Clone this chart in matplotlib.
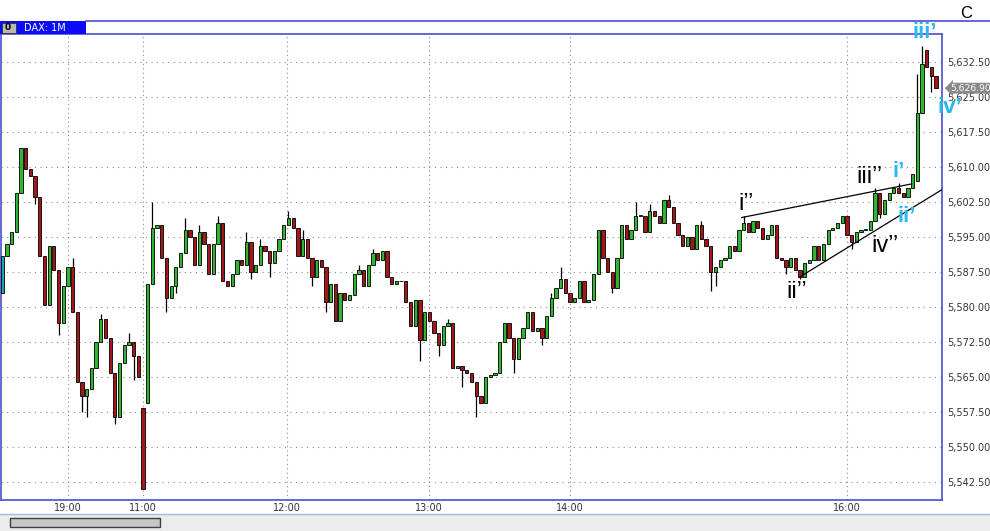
import matplotlib.pyplot as plt
from matplotlib.patches import Rectangle
from matplotlib.lines import Line2D
import matplotlib.transforms as mtransforms

closes = [
    5591, 5593.5, 5596, 5604.5, 5614, 5609.5, 5608, 5603.5, 5591, 5580.5,
    5593, 5588, 5576.5, 5584.5, 5588.5, 5579, 5564, 5561, 5562.5, 5567,
    5572.5, 5577.5, 5573.5, 5566, 5556.5, 5568, 5572, 5572.5, 5569.5, 5565,
    5541, 5585, 5597, 5597.5, 5590.5, 5582, 5584.5, 5588.5, 5591.5, 5596.5,
    5595, 5589, 5596, 5593.5, 5587, 5593.5, 5598, 5585.5, 5584.5, 5587,
    5590, 5589, 5594, 5587.5, 5589, 5593, 5592, 5589.5, 5592, 5594.5,
    5597.5, 5599, 5597, 5591, 5594.5, 5590.5, 5586.5, 5590, 5588.5, 5581,
    5585, 5577, 5583, 5581.5, 5582.5, 5587, 5588, 5584.5, 5589, 5591.5,
    5590, 5592, 5586.5, 5585, 5585.5, 5585.5, 5581, 5576, 5581.5, 5573,
    5579, 5577, 5574.5, 5572, 5576, 5576.5, 5567, 5567.5, 5566.5, 5566,
    5564, 5561, 5559.5, 5565, 5565.5, 5566, 5572.5, 5576.5, 5573.5, 5569,
    5573.5, 5575.5, 5579, 5575, 5575.5, 5573.5, 5578, 5582, 5584, 5586,
    5583, 5581, 5582, 5585.5, 5581, 5581.5, 5587, 5596.5, 5590.5, 5587.5,
    5584, 5590.5, 5597.5, 5594.5, 5596.5, 5599.5, 5599.5, 5596, 5600.5, 5599.5,
    5598, 5603, 5601.5, 5598, 5595.5, 5593, 5595, 5592.5, 5597.5, 5594.5,
    5593, 5587.5, 5588.5, 5590, 5590.5, 5593, 5592, 5596.5, 5598, 5596,
    5598.5, 5597, 5594.5, 5595.5, 5597.5, 5590.5, 5590, 5588.5, 5590.5, 5588,
    5586.5, 5589.5, 5590, 5593, 5590, 5593.5, 5596.5, 5597, 5598, 5599.5,
    5595.5, 5594, 5596, 5596.5, 5596.5, 5598.5, 5604.5, 5600, 5603, 5604.5,
    5605.5, 5604.5, 5603.5, 5605.5, 5608.5, 5621.5, 5632, 5631.5, 5629.5, 5626.9,
]

# bars whose open does not equal the previous close (gaps)
open_gaps = {0: 5583, 30: 5558.5, 31: 5559.5, 195: 5607, 196: 5621.5, 197: 5635}

# wick ends beyond the body
high_wicks = {15: 5590.5, 21: 5578.5, 27: 5574.5, 32: 5602.5, 39: 5599, 42: 5597.5,
              46: 5599.5, 52: 5596, 55: 5594.5, 61: 5600.5, 64: 5596.5, 76: 5589,
              79: 5592.5, 95: 5577.5, 117: 5583, 119: 5588.5, 135: 5602.5, 138: 5602,
              142: 5604, 149: 5598.5, 158: 5599.5, 186: 5605.5, 191: 5606.5,
              195: 5630, 196: 5636}
low_wicks = {7: 5602, 12: 5574, 17: 5557.5, 18: 5556.5, 24: 5555, 28: 5564.5,
             35: 5579, 37: 5583, 53: 5586, 57: 5586.5, 66: 5584.5, 69: 5579,
             89: 5568.5, 93: 5569.5, 98: 5563, 101: 5556.5, 109: 5566, 115: 5572,
             130: 5583, 151: 5583.5, 152: 5584.5, 167: 5587, 170: 5586, 181: 5592.5,
             187: 5599, 198: 5626}

time_labels = ['19:00', '11:00', '12:00', '13:00', '14:00', '16:00']
time_pos = [14, 30, 60.7, 91, 121, 180]
price_ticks = [5542.5, 5550, 5557.5, 5565, 5572.5, 5580, 5587.5, 5595,
               5602.5, 5610, 5617.5, 5625, 5632.5]
last_price = 5626.90

# wave labels: (text, bar, price, colour)
waves = [
    ('i’’', 158.5, 5602.1, 'black'),
    ('ii’’', 169.4, 5583.3, 'black'),
    ('iii’’', 184.7, 5607.9, 'black'),
    ('iv’’', 188.1, 5593.1, 'black'),
    ('i’', 191.1, 5609.0, '#2bb8f0'),
    ('ii’', 192.8, 5599.5, '#2bb8f0'),
    ('iii’', 196.6, 5638.9, '#2bb8f0'),
    ('iv’', 201.9, 5622.7, '#2bb8f0'),
]
# wedge trendlines
upper_line = ([157.6, 193.8], [5599.2, 5606.4])
lower_line = ([170.0, 200.3], [5586.5, 5605.2])

n = len(closes)
xs = list(range(n))
opens = [open_gaps.get(i, closes[i - 1] if i > 0 else closes[0]) for i in xs]
highs = [high_wicks.get(i, max(opens[i], closes[i])) for i in xs]
lows = [low_wicks.get(i, min(opens[i], closes[i])) for i in xs]

green, red, teal = '#2fb52f', '#a3161a', '#1aa6b0'
colors = [green if c >= o else red for o, c in zip(opens, closes)]
colors[0] = teal

W, H = 990, 531
fig = plt.figure(figsize=(W / 100, H / 100), dpi=100)
fig.patch.set_facecolor('white')
ax = fig.add_axes([1 / W, 1 - 500 / H, 941 / W, 466 / H])

frame = '#5a5ad0'
for s in ax.spines.values():
    s.set_color(frame)
    s.set_linewidth(1.3)

# grid
for p in price_ticks:
    ax.axhline(p, color='#8a8a8a', lw=0.8, ls=(0, (1, 4)), zorder=0)
for t in time_pos:
    ax.axvline(t, color='#8a8a8a', lw=0.8, ls=(0, (1, 3)), zorder=0)

# candles
ax.vlines(xs, lows, highs, color='black', lw=0.9, zorder=2)
bodies = [c - o if c != o else 0.15 for o, c in zip(opens, closes)]
ax.bar(xs, bodies, bottom=opens, width=0.7, color=colors,
       edgecolor='black', linewidth=0.6, zorder=3)

# trendlines
ax.plot(*upper_line, color='black', lw=0.9, zorder=4)
ax.plot(*lower_line, color='black', lw=0.9, zorder=4)

for txt, bx, py, col in waves:
    cyan = col != 'black'
    ax.text(bx, py, txt, color=col, fontsize=16 if cyan else 17, ha='center', va='center',
            family='Liberation Sans', fontweight='bold' if cyan else 'normal',
            clip_on=False, zorder=6)

ax.set_xlim(-0.26, 200.26)
ax.set_ylim(5538.7, 5638.5)
ax.set_xticks(time_pos)
ax.set_xticklabels(time_labels)
ax.set_yticks(price_ticks)
ax.set_yticklabels([f'{p:,.2f}' for p in price_ticks])
ax.yaxis.tick_right()
ax.tick_params(axis='both', length=0, labelsize=7, colors='#333333')
ax.tick_params(axis='y', pad=4)
ax.tick_params(axis='x', pad=2)

# current price flag
trans = mtransforms.blended_transform_factory(ax.transAxes, ax.transData)
ax.text(1.009, last_price, f'{last_price:,.2f}', transform=trans, fontsize=6.6,
        color='white', va='center', ha='left', clip_on=False, zorder=5,
        bbox=dict(boxstyle='larrow,pad=0.1', fc='#8a8a8a', ec='none'))

# header strip
fig.add_artist(Line2D([86 / W, 1], [1 - 21 / H] * 2, color=frame, lw=1.3))
fig.add_artist(Rectangle((0, 1 - 34 / H), 86 / W, 13 / H, fc='#0b0bf5', ec='none'))
fig.add_artist(Rectangle((2 / W, 1 - 33 / H), 14 / W, 10 / H, fc='#b8b8b8', ec='#303030', lw=0.6))
fig.text(8 / W, 1 - 28 / H, '0', fontsize=6.5, fontweight='bold', ha='center', va='center')
fig.text(24 / W, 1 - 28 / H, 'DAX: 1M', fontsize=7, color='white', ha='left', va='center')
fig.text(966 / W, 1 - 13 / H, 'C', fontsize=12, ha='center', va='center', family='Liberation Sans')

# scrollbar
fig.add_artist(Rectangle((0, 0), 1, 17 / H, fc='#ececec', ec='none'))
fig.add_artist(Line2D([0, 1], [17 / H] * 2, color='#a9bcd6', lw=1))
fig.add_artist(Rectangle((10 / W, 4 / H), 150 / W, 9 / H, fc='#c6c6c6', ec='#404040', lw=1))

fig.savefig('out.png', dpi=100)
